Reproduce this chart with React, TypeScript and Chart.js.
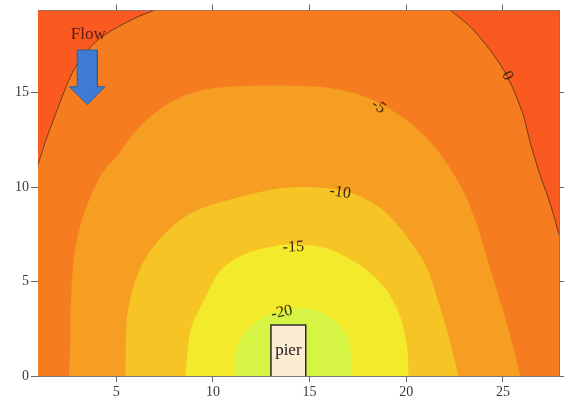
import { useEffect, useRef } from 'react';
import { Chart, registerables } from 'chart.js';

Chart.register(...registerables);

// Axis extents and ticks
const X_MIN = 0.95;
const X_MAX = 27.9;
const Y_MIN = 0;
const Y_MAX = 19.35;
const X_STEP = 5;
const Y_STEP = 5;

// Contour levels (depth change) and fill colours, outermost first
const levels = [0, -5, -10, -15, -20];
const aboveZeroColor = '#FA5A1F';
const levelColors = ['#F57D1F', '#F59E22', '#F6C425', '#F2EA2B', '#D5F443'];

// Contour lines: [x, y]
const zeroLeft: [number, number][] = [
  [0.95, 11.2], [1.45, 12.75], [1.95, 14.1], [2.4, 15.3], [2.85, 16.3], [3.4, 17.1],
  [4.0, 17.75], [4.7, 18.25], [5.4, 18.65], [6.2, 19.05], [6.95, 19.35],
];
const zeroRight: [number, number][] = [
  [22.28, 19.35], [22.9, 18.85], [23.49, 18.3], [24.34, 17.25], [25.04, 16.2], [25.55, 15.15],
  [26.07, 13.75], [26.41, 12.36], [26.93, 10.61], [27.27, 9.65], [27.6, 8.6], [27.9, 7.5],
];
const minus5: [number, number][] = [
  [2.56, 0], [2.62, 1.9], [2.64, 3.6], [2.8, 6.2], [3.15, 8.0], [3.75, 9.7], [4.3, 10.8],
  [5.05, 11.66], [6.09, 13.06], [7.47, 14.28], [9.19, 15.07], [11.25, 15.33], [14.46, 15.36],
  [16.08, 15.24], [17.8, 14.8], [19.18, 14.1], [20.39, 13.23], [21.42, 12.18], [22.28, 10.96],
  [22.97, 9.75], [23.66, 8.0], [24.17, 6.26], [24.69, 4.51], [25.21, 2.76], [25.9, 0],
];
const minus10: [number, number][] = [
  [5.48, 0], [5.53, 2.78], [5.83, 4.51], [6.43, 6.08], [7.47, 7.5], [9.02, 8.7], [11.25, 9.45],
  [12.96, 9.85], [14.35, 10.0], [15.75, 9.95], [17.0, 9.75], [18.0, 9.3], [19.0, 8.6],
  [20.21, 7.13], [21.07, 5.73], [21.59, 4.16], [22.11, 2.41], [22.7, 0],
];
const minus15: [number, number][] = [
  [8.58, 0], [8.84, 2.41], [9.53, 3.99], [10.37, 5.56], [11.58, 6.43], [13.13, 6.87],
  [14.51, 6.96], [16.06, 6.7], [17.8, 5.73], [19.0, 4.51], [19.69, 3.11], [20.04, 1.54], [20.12, 0],
];
const minus20: [number, number][] = [
  [11.15, 0], [11.24, 1.54], [11.93, 2.59], [12.96, 3.29], [13.99, 3.55], [15.03, 3.55],
  [16.06, 3.11], [16.75, 2.41], [17.09, 1.54], [17.18, 0],
];
const levelContours = [minus5, minus10, minus15, minus20];

// Contour labels
const contourLabelText = ['0', '-5', '-10', '-15', '-20'];
const contourLabelX = [25.23, 18.56, 16.58, 14.16, 13.56];
const contourLabelY = [15.89, 14.26, 9.72, 6.82, 3.37];
const contourLabelAngle = [62, 35, 8, -2, -12];

// Pier
const pierLeft = 13;
const pierRight = 14.8;
const pierTop = 2.7;
const pierText = 'pier';
const pierTextY = 1.1;

// Flow arrow
const flowText = 'Flow';
const flowTextX = 3.55;
const flowTextY = 18.09;
const arrowShape: [number, number][] = [
  [2.98, 17.25], [4.02, 17.25], [4.02, 15.31], [4.41, 15.31], [3.5, 14.37], [2.57, 15.31],
  [2.98, 15.31], [2.98, 17.25],
];

const SERIF = '"Liberation Serif", "Times New Roman", serif';

const toPts = (arr: [number, number][]) => arr.map(([x, y]) => ({ x, y }));

const annotationPlugin = {
  id: 'annotations',
  afterDatasetsDraw(chart: any) {
    const { ctx } = chart;
    const xs = chart.scales.x;
    const ys = chart.scales.y;
    ctx.save();
    ctx.textAlign = 'center';
    ctx.textBaseline = 'middle';
    ctx.font = `16px ${SERIF}`;
    ctx.fillStyle = '#3B2411';
    contourLabelText.forEach((t, i) => {
      ctx.save();
      ctx.translate(xs.getPixelForValue(contourLabelX[i]), ys.getPixelForValue(contourLabelY[i]));
      ctx.rotate((contourLabelAngle[i] * Math.PI) / 180);
      ctx.fillText(t, 0, 0);
      ctx.restore();
    });
    ctx.font = `17px ${SERIF}`;
    ctx.fillStyle = '#5B1B14';
    ctx.fillText(flowText, xs.getPixelForValue(flowTextX), ys.getPixelForValue(flowTextY));
    ctx.fillStyle = '#1A1A1A';
    ctx.textBaseline = 'alphabetic';
    ctx.fillText(pierText, xs.getPixelForValue((pierLeft + pierRight) / 2), ys.getPixelForValue(pierTextY));
    ctx.restore();
  },
};

export default function App() {
  const canvasRef = useRef<HTMLCanvasElement | null>(null);

  useEffect(() => {
    if (!canvasRef.current) return;
    const regionBase = {
      showLine: true,
      fill: 'shape',
      pointRadius: 0,
      pointHoverRadius: 0,
      borderWidth: 0,
      borderColor: 'transparent',
      tension: 0.3,
      xAxisID: 'x',
      yAxisID: 'y',
    };
    const datasets: any[] = [
      {
        ...regionBase,
        label: 'above 0',
        data: toPts([[X_MIN, Y_MIN], [X_MIN, Y_MAX], [X_MAX, Y_MAX], [X_MAX, Y_MIN]]),
        backgroundColor: aboveZeroColor,
        tension: 0,
        order: 30,
      },
      {
        ...regionBase,
        label: `${levels[0]}`,
        data: toPts([[X_MIN, 0], ...zeroLeft, ...zeroRight, [X_MAX, 0]]),
        backgroundColor: levelColors[0],
        tension: 0.25,
        order: 29,
      },
      ...levelContours.map((c, i) => ({
        ...regionBase,
        label: `${levels[i + 1]}`,
        data: toPts(c),
        backgroundColor: levelColors[i + 1],
        order: 28 - i,
      })),
      {
        showLine: true,
        fill: false,
        pointRadius: 0,
        borderWidth: 1,
        borderColor: '#6E3B1C',
        tension: 0.25,
        data: toPts(zeroLeft),
        order: 10,
      },
      {
        showLine: true,
        fill: false,
        pointRadius: 0,
        borderWidth: 1,
        borderColor: '#6E3B1C',
        tension: 0.25,
        data: toPts(zeroRight),
        order: 9,
      },
      {
        showLine: true,
        fill: 'shape',
        pointRadius: 0,
        borderWidth: 1.5,
        borderColor: '#2B2B2B',
        backgroundColor: '#FDEBD2',
        tension: 0,
        data: toPts([[pierLeft, 0], [pierLeft, pierTop], [pierRight, pierTop], [pierRight, 0]]),
        order: 5,
      },
      {
        showLine: true,
        fill: 'shape',
        pointRadius: 0,
        borderWidth: 1,
        borderColor: '#2F5E9F',
        backgroundColor: '#3E7BD3',
        tension: 0,
        data: toPts(arrowShape),
        order: 4,
      },
    ];

    const tickFont = { family: SERIF, size: 14 };
    const chart = new Chart(canvasRef.current, {
      type: 'scatter',
      data: { datasets },
      plugins: [annotationPlugin],
      options: {
        responsive: false,
        animation: false,
        devicePixelRatio: 1,
        events: [],
        layout: { padding: 0 },
        plugins: { legend: { display: false }, tooltip: { enabled: false } },
        scales: {
          x: {
            type: 'linear',
            position: 'bottom',
            min: X_MIN,
            max: X_MAX,
            ticks: { stepSize: X_STEP, includeBounds: false, color: '#3A3A3A', font: tickFont, padding: 2 },
            grid: { drawOnChartArea: false, tickLength: 6, color: '#666' },
            border: { display: true, color: '#777', width: 1 },
            afterFit: (s: any) => { s.height = 27; },
          },
          x2: {
            type: 'linear',
            position: 'top',
            min: X_MIN,
            max: X_MAX,
            ticks: { stepSize: X_STEP, includeBounds: false, display: false },
            grid: { drawOnChartArea: false, tickLength: 6, color: '#666' },
            border: { display: true, color: '#777', width: 1 },
            afterFit: (s: any) => { s.height = 7; },
          },
          y: {
            type: 'linear',
            position: 'left',
            min: Y_MIN,
            max: Y_MAX,
            ticks: { stepSize: Y_STEP, includeBounds: false, color: '#3A3A3A', font: tickFont, padding: 2 },
            grid: { drawOnChartArea: false, tickLength: 7, color: '#666' },
            border: { display: true, color: '#777', width: 1 },
            afterFit: (s: any) => { s.width = 38; },
          },
          y2: {
            type: 'linear',
            position: 'right',
            min: Y_MIN,
            max: Y_MAX,
            ticks: { stepSize: Y_STEP, includeBounds: false, display: false },
            grid: { drawOnChartArea: false, tickLength: 5, color: '#666' },
            border: { display: true, color: '#777', width: 1 },
            afterFit: (s: any) => { s.width = 5; },
          },
        },
      } as any,
    });
    return () => chart.destroy();
  }, []);

  return (
    <div style={{ position: 'absolute', left: 0, top: 0, width: 564, height: 403, background: '#fff' }}>
      <canvas ref={canvasRef} width={564} height={403} style={{ display: 'block', width: 564, height: 403 }} />
    </div>
  );
}
